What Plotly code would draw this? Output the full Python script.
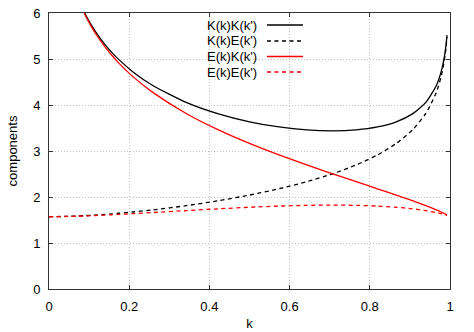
import plotly.graph_objects as go

# modulus k (sampled as k = sin(alpha), alpha in degrees)
k_vals = [0.0, 0.052336, 0.069756, 0.087156, 0.104528, 0.121869, 0.139173,
          0.156434, 0.173648, 0.207912, 0.258819, 0.342020, 0.422618, 0.5,
          0.573576, 0.642788, 0.707107, 0.766044, 0.819152, 0.866025,
          0.906308, 0.939693, 0.965926, 0.978148, 0.984808, 0.987688,
          0.990268, 0.992546]

# K(k)K(k')
kk_vals = [None, 6.8198, 6.3738, 6.0304, 5.7521, 5.5190, 5.3193,
           5.1452, 4.9913, 4.7306, 4.4238, 4.0574, 3.8072, 3.6353,
           3.5226, 3.4584, 3.4376, 3.4584, 3.5226, 3.6353,
           3.8072, 4.0574, 4.4238, 4.7306, 4.9913, 5.1452,
           5.3193, 5.5190]

# K(k)E(k')
ke_vals = [1.5708, 1.5801, 1.5863, 1.5937, 1.6023, 1.6119, 1.6224,
           1.6339, 1.6463, 1.6736, 1.7202, 1.8113, 1.9191, 2.0415,
           2.1791, 2.3327, 2.5042, 2.6965, 2.9143, 3.1646,
           3.4588, 3.8164, 4.2743, 4.6277, 4.9158, 5.0820,
           5.2677, 5.4780]

# E(k)K(k')
ek_vals = [None, 6.8105, 6.3583, 6.0074, 5.7206, 5.4780, 5.2677,
           5.0820, 4.9158, 4.6277, 4.2743, 3.8164, 3.4588, 3.1646,
           2.9143, 2.6965, 2.5042, 2.3327, 2.1791, 2.0415,
           1.9191, 1.8113, 1.7202, 1.6736, 1.6463, 1.6339,
           1.6224, 1.6119]

# E(k)E(k')
ee_vals = [1.5708, 1.5780, 1.5825, 1.5877, 1.5935, 1.5999, 1.6067,
           1.6139, 1.6214, 1.6372, 1.6621, 1.7037, 1.7435, 1.7772,
           1.8028, 1.8188, 1.8242, 1.8188, 1.8028, 1.7772,
           1.7435, 1.7037, 1.6621, 1.6372, 1.6214, 1.6139,
           1.6067, 1.5999]

names = ["K(k)K(k')", "K(k)E(k')", "E(k)K(k')", "E(k)E(k')"]
colors = ["#000000", "#000000", "#ff0000", "#ff0000"]
dashes = ["solid", "4px,3.5px", "solid", "4px,3.5px"]
series = [kk_vals, ke_vals, ek_vals, ee_vals]

fig = go.Figure()
for name, ys, col, dash in zip(names, series, colors, dashes):
    fig.add_trace(go.Scatter(x=k_vals, y=ys, name=name, mode="lines",
                             line=dict(color=col, width=1.3, dash=dash,
                                       shape="spline", smoothing=0.6),
                             showlegend=False))

# gnuplot-style key: text on the left, line sample on the right
row_y = [0.9565, 0.8986, 0.8424, 0.7862]
for name, col, dash, yy in zip(names, colors, dashes, row_y):
    fig.add_annotation(x=0.5237, y=yy, xref="paper", yref="paper",
                       text=name, showarrow=False, xanchor="right",
                       yanchor="middle", font=dict(size=13, color="#000000"))
    fig.add_shape(type="line", xref="paper", yref="paper",
                  x0=0.5436, x1=0.6334, y0=yy, y1=yy,
                  line=dict(color=col, width=1.3, dash=dash))

axis_style = dict(showline=True, linecolor="#333333", linewidth=1,
                  mirror="ticks", ticks="inside", ticklen=4,
                  tickcolor="#333333", showgrid=True, gridcolor="#c0c0c0",
                  griddash="1px,2px", gridwidth=1, zeroline=False,
                  automargin=False,
                  tickfont=dict(size=13, color="#000000"))

fig.update_xaxes(range=[0, 1], tickvals=[0, 0.2, 0.4, 0.6, 0.8, 1],
                 ticktext=["0", "0.2", "0.4", "0.6", "0.8", "1"],
                 ticklabelstandoff=5,
                 title=dict(text="k", standoff=6, font=dict(size=13)),
                 **axis_style)
fig.update_yaxes(range=[0, 6], tickvals=[0, 1, 2, 3, 4, 5, 6],
                 ticklabelstandoff=5,
                 title=dict(text="components", standoff=12, font=dict(size=13)),
                 **axis_style)

fig.update_layout(
    width=474, height=332, autosize=False,
    margin=dict(l=49, r=24, t=13, b=43),
    plot_bgcolor="white", paper_bgcolor="white",
    font=dict(family="Liberation Sans, Arial, sans-serif", size=13, color="#000000"),
)

# drop the default page margin so the figure sits at the window's corner
fig.write_html("out.html", config={"displayModeBar": False},
               post_script="document.body.style.margin='0';"
                           "document.body.style.overflow='hidden';")
